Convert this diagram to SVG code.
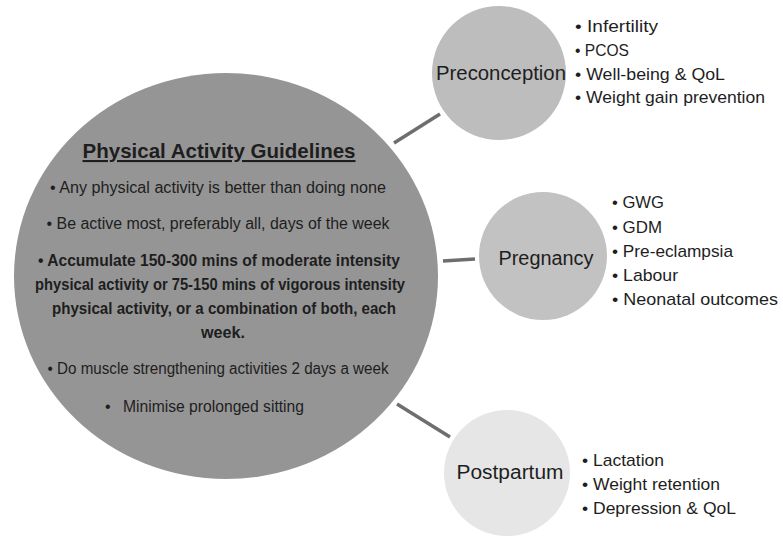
<svg xmlns="http://www.w3.org/2000/svg" width="783" height="537" viewBox="0 0 783 537">
<style>
text{font-family:"Liberation Sans",Arial,sans-serif;fill:#1e1e1e}
.b{font-size:16px;text-anchor:middle}
.bb{font-size:16px;font-weight:bold;text-anchor:middle}
.lab{font-size:20px;text-anchor:middle}
.li{font-size:17px}
.con{stroke:#6e6e6e;stroke-width:3.5;fill:none}
</style>
<rect width="783" height="537" fill="#ffffff"/>
<g id="connectors">
<line class="con" x1="394" y1="143" x2="440" y2="114"/>
<line class="con" x1="443" y1="261" x2="475" y2="259"/>
<line class="con" x1="397" y1="404" x2="450" y2="437"/>
</g>
<g id="guidelines">
<ellipse cx="226" cy="276" rx="212" ry="203" fill="#959595"/>
<text x="219" y="158" style="font-size:21px;font-weight:bold;text-anchor:middle;text-decoration:underline" textLength="273" lengthAdjust="spacingAndGlyphs">Physical Activity Guidelines</text>
<text class="b" x="218" y="193" textLength="336" lengthAdjust="spacingAndGlyphs">• Any physical activity is better than doing none</text>
<text class="b" x="218" y="229" textLength="343" lengthAdjust="spacingAndGlyphs">• Be active most, preferably all, days of the week</text>
<text class="bb" x="219" y="266" textLength="362" lengthAdjust="spacingAndGlyphs">• Accumulate 150-300 mins of moderate intensity</text>
<text class="bb" x="220" y="290" textLength="370" lengthAdjust="spacingAndGlyphs">physical activity or 75-150 mins of vigorous intensity</text>
<text class="bb" x="224" y="314" textLength="344" lengthAdjust="spacingAndGlyphs">physical activity, or a combination of both, each</text>
<text class="bb" x="223" y="338" textLength="44" lengthAdjust="spacingAndGlyphs">week.</text>
<text class="b" x="218" y="374" textLength="341" lengthAdjust="spacingAndGlyphs">• Do muscle strengthening activities 2 days a week</text>
<text x="105" y="412" style="font-size:16px">•</text>
<text x="123" y="412" style="font-size:16px" textLength="181" lengthAdjust="spacingAndGlyphs">Minimise prolonged sitting</text>
</g>
<g id="preconception">
<circle cx="499" cy="73" r="67" fill="#bdbdbd"/>
<text class="lab" x="501" y="80" textLength="130" lengthAdjust="spacingAndGlyphs">Preconception</text>
<text class="li" x="575" y="32" textLength="83" lengthAdjust="spacingAndGlyphs">• Infertility</text>
<text class="li" x="575" y="56" textLength="54" lengthAdjust="spacingAndGlyphs">• PCOS</text>
<text class="li" x="575" y="80" textLength="150" lengthAdjust="spacingAndGlyphs">• Well-being &amp; QoL</text>
<text class="li" x="575" y="103" textLength="190" lengthAdjust="spacingAndGlyphs">• Weight gain prevention</text>
</g>
<g id="pregnancy">
<circle cx="543" cy="256" r="64" fill="#c2c2c2"/>
<text class="lab" x="546" y="265" textLength="95" lengthAdjust="spacingAndGlyphs">Pregnancy</text>
<text class="li" x="612" y="208" textLength="52" lengthAdjust="spacingAndGlyphs">• GWG</text>
<text class="li" x="612" y="233" textLength="50" lengthAdjust="spacingAndGlyphs">• GDM</text>
<text class="li" x="612" y="257" textLength="121" lengthAdjust="spacingAndGlyphs">• Pre-eclampsia</text>
<text class="li" x="612" y="281" textLength="66" lengthAdjust="spacingAndGlyphs">• Labour</text>
<text class="li" x="612" y="305" textLength="166" lengthAdjust="spacingAndGlyphs">• Neonatal outcomes</text>
</g>
<g id="postpartum">
<circle cx="507" cy="473" r="63" fill="#e6e6e6"/>
<text class="lab" x="510" y="479" textLength="107" lengthAdjust="spacingAndGlyphs">Postpartum</text>
<text class="li" x="582" y="466" textLength="82" lengthAdjust="spacingAndGlyphs">• Lactation</text>
<text class="li" x="582" y="490" textLength="138" lengthAdjust="spacingAndGlyphs">• Weight retention</text>
<text class="li" x="582" y="514" textLength="154" lengthAdjust="spacingAndGlyphs">• Depression &amp; QoL</text>
</g>
</svg>
